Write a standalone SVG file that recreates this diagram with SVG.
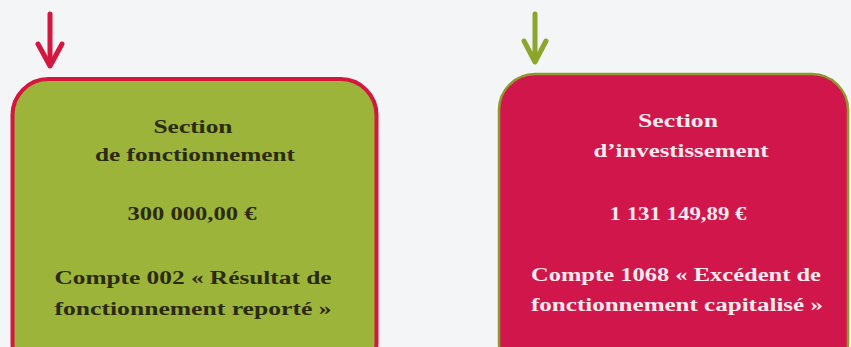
<svg xmlns="http://www.w3.org/2000/svg" width="851" height="347" viewBox="0 0 851 347">
<defs>
<style>
.t{font-family:"Liberation Serif","Times New Roman",serif;font-weight:bold;font-size:18px;text-anchor:middle}
.dk{fill:#2b2a12}
.lt{fill:#f7e9ee}
</style>
</defs>
<rect width="851" height="347" fill="#f3f5f7"/>
<g id="connectors">
<g id="arrow-red" fill="none" stroke="#d3173f" stroke-width="5" stroke-linecap="round" stroke-linejoin="round">
<line x1="50" y1="14" x2="50" y2="64"/>
<polyline points="38,44 50,66 62,44"/>
</g>
<g id="arrow-green" fill="none" stroke="#8ca52c" stroke-width="5" stroke-linecap="round" stroke-linejoin="round">
<line x1="535" y1="14" x2="535" y2="59"/>
<polyline points="524,41 535,62 546,41"/>
</g>
</g>
<g id="node-fonctionnement">
<rect x="12.5" y="79" width="364" height="300" rx="36" ry="36" fill="#9cb43a" stroke="#d3173f" stroke-width="4"/>
<text class="t dk" x="193" y="133" textLength="79" lengthAdjust="spacingAndGlyphs">Section</text>
<text class="t dk" x="195" y="161" textLength="200" lengthAdjust="spacingAndGlyphs">de fonctionnement</text>
<text class="t dk" x="192" y="220" textLength="129" lengthAdjust="spacingAndGlyphs">300 000,00 €</text>
<text class="t dk" x="193" y="284" textLength="277" lengthAdjust="spacingAndGlyphs">Compte 002 « Résultat de</text>
<text class="t dk" x="193" y="315" textLength="277" lengthAdjust="spacingAndGlyphs">fonctionnement reporté »</text>
</g>
<g id="node-investissement">
<rect x="499" y="74" width="349" height="305" rx="36" ry="36" fill="#d1164b" stroke="#8e9a2e" stroke-width="2.5"/>
<text class="t lt" x="678" y="127" textLength="80" lengthAdjust="spacingAndGlyphs">Section</text>
<text class="t lt" x="681" y="157" textLength="175" lengthAdjust="spacingAndGlyphs">d’investissement</text>
<text class="t lt" x="678" y="220" textLength="137" lengthAdjust="spacingAndGlyphs">1 131 149,89 €</text>
<text class="t lt" x="676" y="281" textLength="290" lengthAdjust="spacingAndGlyphs">Compte 1068 « Excédent de</text>
<text class="t lt" x="677" y="311" textLength="292" lengthAdjust="spacingAndGlyphs">fonctionnement capitalisé »</text>
</g>
</svg>
